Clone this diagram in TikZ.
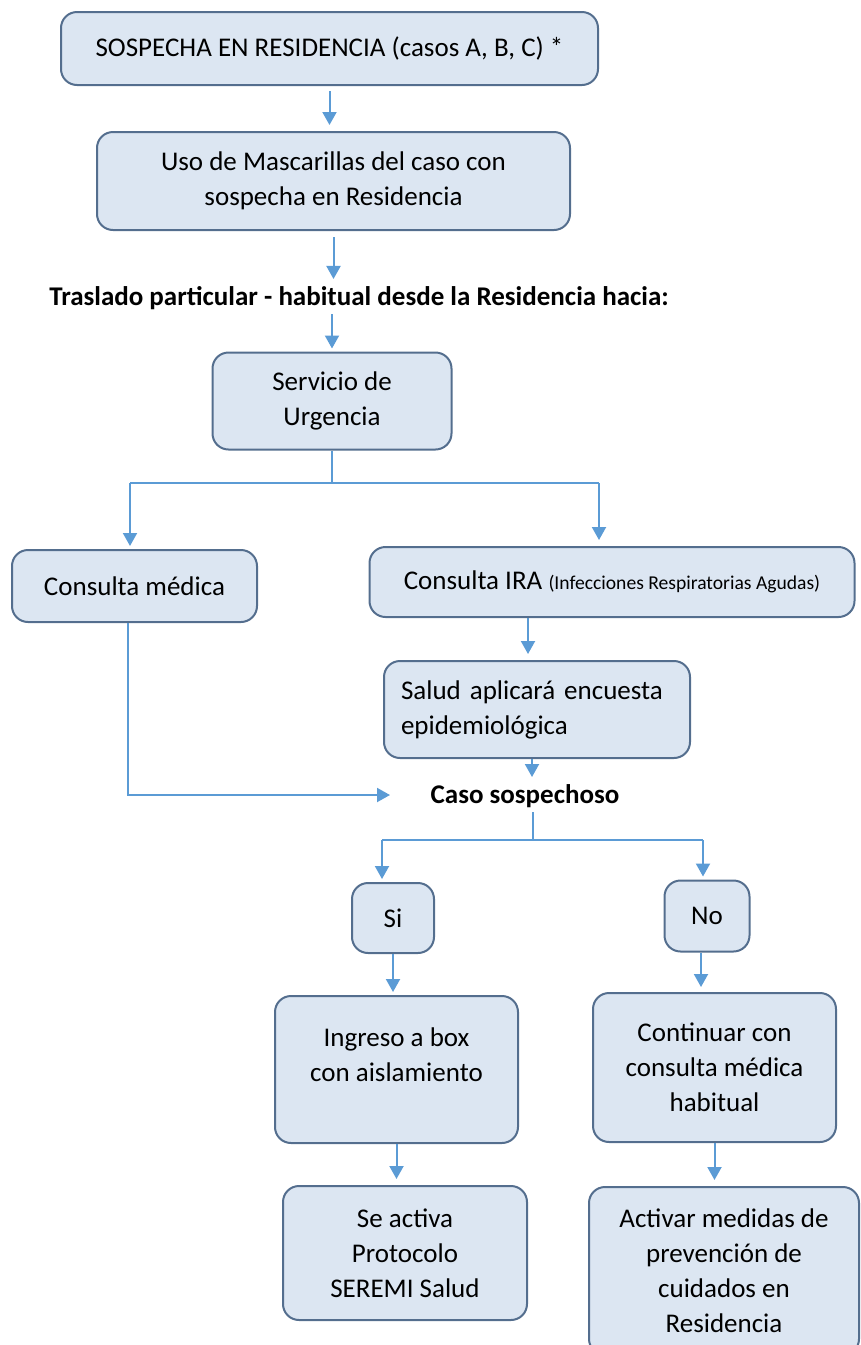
\documentclass[tikz,border=0pt]{standalone}
\usepackage{fontspec}
\setmainfont{Carlito}
\usetikzlibrary{arrows.meta}
\definecolor{relleno}{RGB}{220,230,242}
\definecolor{borde}{RGB}{84,110,142}
\definecolor{azul}{RGB}{91,155,213}
\tikzset{
  caja/.style={draw=borde, fill=relleno, rounded corners=8pt, line width=1pt, align=center, font=\fontsize{13.5}{17.5}\selectfont, inner sep=2pt},
  rotulo/.style={font=\fontsize{13.5}{17.5}\selectfont\bfseries, inner sep=2pt},
  linea/.style={draw=azul, line width=1pt},
  flecha/.style={linea, -{Triangle[length=6.5pt,width=7pt]}, shorten >=1.5pt},
}
\begin{document}
\begin{tikzpicture}[x=0.5pt, y=-0.5pt]
  \clip (0,0) rectangle (861,1345);

  % cajas
  \node[caja, minimum width=268.5pt, minimum height=36.5pt] (sosp) at (329.5,48.5) {SOSPECHA EN RESIDENCIA (casos A, B, C) *};
  \node[caja, minimum width=236.5pt, minimum height=49pt] (uso) at (333.5,181) {Uso de Mascarillas del caso con\\sospecha en Residencia};
  \node[rotulo] (tras) at (359,298) {Traslado particular - habitual desde la Residencia hacia:};
  \node[caja, minimum width=119.5pt, minimum height=48.5pt] (serv) at (332,401) {Servicio de\\Urgencia};
  \node[caja, minimum width=122.5pt, minimum height=36pt] (cmed) at (134.5,586) {Consulta médica};
  \node[caja, minimum width=242.5pt, minimum height=35pt] (ira) at (612,582) {Consulta IRA {\fontsize{9.8}{12}\selectfont(Infecciones Respiratorias Agudas)}};
  \node[caja, text width=136pt, align=left, inner xsep=8.5pt, minimum height=48.5pt] (salud) at (537,709.5) {Salud aplicará encuesta\\epidemiológica};
  \node[rotulo] (caso) at (525,796) {Caso sospechoso};
  \node[caja, minimum width=41pt, minimum height=35pt] (si) at (393,918) {Si};
  \node[caja, minimum width=42.5pt, minimum height=35.5pt] (no) at (707,916) {No};
  \node[caja, minimum width=121.5pt, minimum height=73.5pt] (ing) at (396.5,1069.5) {Ingreso a box\\con aislamiento\\[-8pt]\strut};
  \node[caja, minimum width=121.5pt, minimum height=74.5pt] (cont) at (714.5,1067.5) {Continuar con\\consulta médica\\habitual};
  \node[caja, minimum width=122pt, minimum height=67pt] (seact) at (405,1253) {Se activa\\Protocolo\\SEREMI Salud};
  \node[caja, minimum width=135pt, minimum height=84pt] (activ) at (724,1271) {Activar medidas de\\prevención de\\cuidados en\\Residencia};

  % conectores
  \draw[flecha, shorten <=2.5pt, shorten >=3pt] (sosp.south) -- (sosp.south |- uso.north);
  \draw[flecha, shorten <=3pt] (uso.south) -- (uso.south |- tras.north);
  \draw[flecha] (tras.south -| serv.north) -- (serv.north);

  \coordinate (bif1) at (332,483);
  \coordinate (izq1) at (130,483);
  \coordinate (der1) at (599,483);
  \draw[linea] (serv.south) -- (bif1);
  \draw[linea] (izq1) -- (der1);
  \draw[flecha] (izq1) -- (izq1 |- cmed.north);
  \draw[flecha, shorten >=3pt] (der1) -- (der1 |- ira.north);

  \coordinate (c1) at ([xshift=-4.5pt]salud.north);
  \draw[flecha, shorten >=3pt] (c1 |- ira.south) -- (c1);
  \coordinate (c2) at ([xshift=-2.5pt]salud.south);
  \draw[flecha] (c2) -- (c2 |- caso.north);

  \coordinate (ent) at (390,795);
  \draw[flecha, shorten >=0pt] ([xshift=-3.25pt]cmed.south) |- (ent);

  \coordinate (bif2) at (533,840);
  \coordinate (izq2) at (382,840);
  \coordinate (der2) at (703,840);
  \draw[linea] (caso.south -| bif2) -- (bif2);
  \draw[linea] (izq2) -- (der2);
  \draw[flecha] (izq2) -- (izq2 |- si.north);
  \draw[flecha] (der2) -- (der2 |- no.north);

  \draw[flecha] (si.south) -- (si.south |- ing.north);
  \draw[flecha, shorten >=2.5pt] ([xshift=-3pt]no.south) -- ([xshift=-3pt]no.south |- cont.north);
  \draw[flecha, shorten >=3pt] (ing.south) -- (ing.south |- seact.north);
  \draw[flecha, shorten >=3pt] (cont.south) -- (cont.south |- activ.north);
\end{tikzpicture}
\end{document}
